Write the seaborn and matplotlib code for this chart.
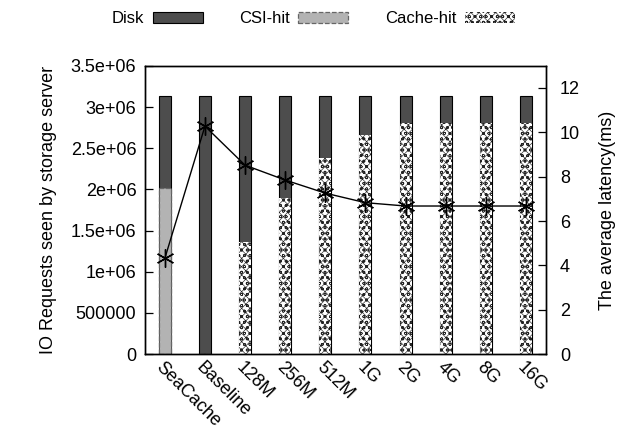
import numpy as np
import pandas as pd
import matplotlib
matplotlib.use("Agg")
import matplotlib.pyplot as plt
import matplotlib.patches as mpatches
import matplotlib.transforms as mtransforms
import seaborn as sns

configs = ["SeaCache", "Baseline", "128M", "256M", "512M", "1G", "2G", "4G", "8G", "16G"]
disk = [1.11e6, 3.13e6, 1.77e6, 1.23e6, 0.75e6, 0.47e6, 0.33e6, 0.33e6, 0.33e6, 0.33e6]
csi_hit = [2.02e6, 0, 0, 0, 0, 0, 0, 0, 0, 0]
cache_hit = [0, 0, 1.36e6, 1.90e6, 2.38e6, 2.66e6, 2.80e6, 2.80e6, 2.80e6, 2.80e6]
latency = [4.32, 10.28, 8.52, 7.85, 7.26, 6.83, 6.68, 6.68, 6.68, 6.68]

left_ticks = [0, 500000, 1e6, 1.5e6, 2e6, 2.5e6, 3e6, 3.5e6]
left_tick_labels = ["0", "500000", "1e+06", "1.5e+06", "2e+06", "2.5e+06", "3e+06", "3.5e+06"]
right_ticks = [0, 2, 4, 6, 8, 10, 12]

sns.set_theme(style="white")
plt.rcParams["font.family"] = ["Liberation Sans", "DejaVu Sans"]
plt.rcParams["hatch.linewidth"] = 0.45
plt.rcParams["text.color"] = "black"
plt.rcParams["axes.labelcolor"] = "black"
plt.rcParams["xtick.color"] = "black"
plt.rcParams["ytick.color"] = "black"

FS = 13
DISK_C = "#4d4d4d"
CSI_C = "#b3b3b3"
CACHE_HATCH = "xxxxooo"

df = pd.DataFrame({
    "config": configs,
    "disk": disk,
    "csi": csi_hit,
    "cache": cache_hit,
})
df["total"] = df["disk"] + df["csi"] + df["cache"]

fig = plt.figure(figsize=(6.24, 4.33), dpi=100)
ax = fig.add_axes([0.232, 0.182, 0.643, 0.666])

bw = 0.3
# full stack height shows the disk share; hit shares are drawn over it from zero
sns.barplot(data=df, x="config", y="total", order=configs, color=DISK_C,
            saturation=1, width=bw, edgecolor="black", linewidth=0.8, ax=ax)
sns.barplot(data=df, x="config", y="csi", order=configs, color=CSI_C,
            saturation=1, width=bw, edgecolor="#666666", linewidth=0.9,
            linestyle="--", ax=ax)
sns.barplot(data=df, x="config", y="cache", order=configs, color="white",
            saturation=1, width=bw, edgecolor="#222222", linewidth=0,
            hatch=CACHE_HATCH, ax=ax)

ax.set_ylim(0, 3.5e6)
ax.set_xlim(-0.5, len(configs) - 0.5)
ax.set_yticks(left_ticks)
ax.set_yticklabels(left_tick_labels, fontsize=FS)
ax.set_xticks(range(len(configs)))
ax.set_xticklabels(configs, fontsize=FS, rotation=-45, ha="left",
                   va="top", rotation_mode="anchor")
shift = mtransforms.ScaledTranslation(3 / 72, 0, fig.dpi_scale_trans)
for lab in ax.get_xticklabels():
    lab.set_transform(lab.get_transform() + shift)
ax.tick_params(axis="x", length=0, pad=3)
ax.tick_params(axis="y", direction="in", length=6, width=0.9,
               left=True, right=False, pad=6)
ax.set_xlabel("")
ax.set_ylabel("IO Requests seen by storage server", fontsize=FS, labelpad=10)
for s in ax.spines.values():
    s.set_color("black")
    s.set_linewidth(1.0)

ax2 = ax.twinx()
asterisk = (6, 2, 0)
sns.lineplot(x=np.arange(len(configs)), y=latency, ax=ax2, color="black",
             linewidth=1.0, marker=asterisk, markersize=13,
             markeredgewidth=1.0, markeredgecolor="black")
ax2.set_ylim(0, 13)
ax2.set_xlim(-0.5, len(configs) - 0.5)
ax2.set_yticks(right_ticks)
ax2.set_yticklabels([str(t) for t in right_ticks], fontsize=FS)
ax2.tick_params(axis="y", direction="in", length=6, width=0.9,
                right=True, left=False, pad=10)
ax2.set_ylabel("The average latency(ms)", fontsize=FS, labelpad=14)
ax2.grid(False)
ax.grid(False)
for s in ax2.spines.values():
    s.set_color("black")
    s.set_linewidth(1.0)

handles = [
    mpatches.Patch(facecolor=DISK_C, edgecolor="black", linewidth=0.8, label="Disk"),
    mpatches.Patch(facecolor=CSI_C, edgecolor="#666666", linewidth=0.9,
                   linestyle="--", label="CSI-hit"),
    mpatches.Patch(facecolor="white", edgecolor="#222222", linewidth=0,
                   hatch=CACHE_HATCH, label="Cache-hit"),
]
fig.legend(handles=handles, loc="center", bbox_to_anchor=(0.502, 0.957), ncol=3,
           frameon=False, markerfirst=False, fontsize=12, handlelength=3.0,
           handleheight=0.6, columnspacing=2.2, handletextpad=0.5)

fig.savefig("out.png", dpi=100)
